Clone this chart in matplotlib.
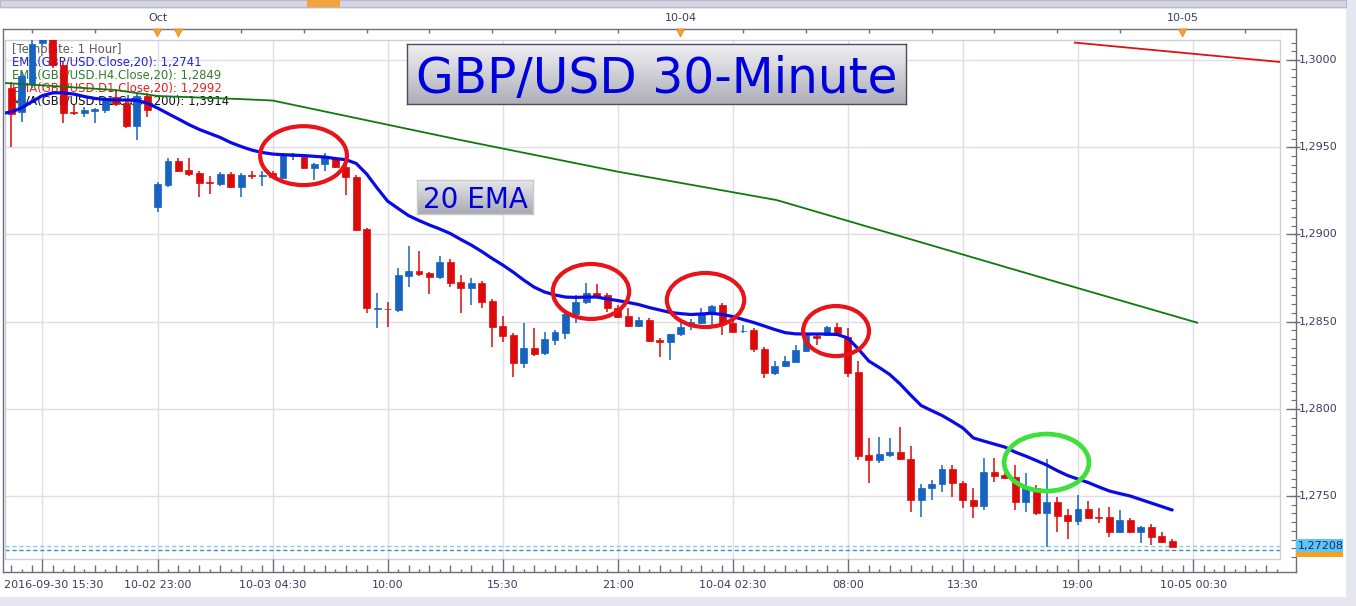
import numpy as np
import matplotlib
matplotlib.use("Agg")
import matplotlib.pyplot as plt
from matplotlib.patches import Ellipse, Rectangle, Polygon
from matplotlib.lines import Line2D
from matplotlib.collections import LineCollection
import matplotlib.transforms as mtransforms
from matplotlib.colors import to_rgb

plt.rcParams['font.family'] = ['DejaVu Sans']

# ---------------- data (GBP/USD, 30-minute bars) ----------------
opens = [
    1.29841, 1.29704, 1.29862, 1.30095, 1.30160, 1.29971, 1.29700, 1.29694, 1.29709, 1.29713,
    1.29790, 1.29752, 1.29622, 1.29794, 1.29159, 1.29283, 1.29421, 1.29369, 1.29350, 1.29300,
    1.29289, 1.29346, 1.29273, 1.29343, 1.29338, 1.29352, 1.29325, 1.29452, 1.29446, 1.29379,
    1.29404, 1.29431, 1.29385, 1.29327, 1.29029, 1.28575, 1.28574, 1.28567, 1.28763, 1.28790,
    1.28777, 1.28754, 1.28843, 1.28727, 1.28694, 1.28720, 1.28618, 1.28475, 1.28423, 1.28264,
    1.28347, 1.28318, 1.28394, 1.28436, 1.28544, 1.28611, 1.28662, 1.28653, 1.28580, 1.28532,
    1.28476, 1.28509, 1.28394, 1.28381, 1.28427, 1.28475, 1.28494, 1.28544, 1.28594, 1.28492,
    1.28446, 1.28452, 1.28341, 1.28204, 1.28248, 1.28270, 1.28334, 1.28415, 1.28426, 1.28471,
    1.28413, 1.28211, 1.27735, 1.27704, 1.27735, 1.27751, 1.27710, 1.27477, 1.27544, 1.27569,
    1.27655, 1.27573, 1.27477, 1.27444, 1.27636, 1.27620, 1.27607, 1.27464, 1.27544, 1.27401,
    1.27464, 1.27391, 1.27358, 1.27424, 1.27381, 1.27378, 1.27295, 1.27362, 1.27295, 1.27324,
    1.27271, 1.27242]
highs = [
    1.29874, 1.29931, 1.30130, 1.30210, 1.30200, 1.29989, 1.29742, 1.29731, 1.29725, 1.29790,
    1.29828, 1.29765, 1.29811, 1.29811, 1.29302, 1.29436, 1.29436, 1.29436, 1.29364, 1.29335,
    1.29358, 1.29358, 1.29352, 1.29365, 1.29365, 1.29364, 1.29467, 1.29467, 1.29461, 1.29409,
    1.29465, 1.29444, 1.29398, 1.29341, 1.29037, 1.28662, 1.28614, 1.28806, 1.28933, 1.28905,
    1.28784, 1.28876, 1.28859, 1.28767, 1.28748, 1.28733, 1.28630, 1.28532, 1.28435, 1.28494,
    1.28462, 1.28442, 1.28452, 1.28555, 1.28653, 1.28721, 1.28716, 1.28664, 1.28595, 1.28576,
    1.28525, 1.28521, 1.28406, 1.28429, 1.28494, 1.28515, 1.28576, 1.28595, 1.28607, 1.28515,
    1.28480, 1.28463, 1.28354, 1.28272, 1.28303, 1.28366, 1.28429, 1.28423, 1.28475, 1.28494,
    1.28466, 1.28274, 1.27831, 1.27840, 1.27831, 1.27897, 1.27787, 1.27569, 1.27592, 1.27678,
    1.27678, 1.27586, 1.27544, 1.27716, 1.27716, 1.27720, 1.27678, 1.27630, 1.27563, 1.27710,
    1.27496, 1.27424, 1.27506, 1.27473, 1.27430, 1.27435, 1.27420, 1.27374, 1.27328, 1.27339,
    1.27295, 1.27253]
lows = [
    1.29501, 1.29646, 1.29839, 1.30080, 1.29954, 1.29639, 1.29685, 1.29675, 1.29640, 1.29698,
    1.29736, 1.29610, 1.29541, 1.29675, 1.29130, 1.29272, 1.29358, 1.29335, 1.29216, 1.29232,
    1.29278, 1.29264, 1.29216, 1.29318, 1.29278, 1.29318, 1.29323, 1.29427, 1.29375, 1.29312,
    1.29365, 1.29381, 1.29226, 1.29021, 1.28548, 1.28462, 1.28471, 1.28553, 1.28701, 1.28761,
    1.28658, 1.28744, 1.28701, 1.28548, 1.28595, 1.28576, 1.28353, 1.28385, 1.28184, 1.28232,
    1.28303, 1.28308, 1.28366, 1.28400, 1.28494, 1.28601, 1.28635, 1.28557, 1.28521, 1.28469,
    1.28469, 1.28385, 1.28299, 1.28280, 1.28417, 1.28452, 1.28486, 1.28473, 1.28423, 1.28440,
    1.28436, 1.28326, 1.28175, 1.28194, 1.28240, 1.28263, 1.28326, 1.28366, 1.28417, 1.28429,
    1.28181, 1.27704, 1.27573, 1.27691, 1.27722, 1.27707, 1.27410, 1.27381, 1.27477, 1.27525,
    1.27496, 1.27430, 1.27372, 1.27420, 1.27582, 1.27597, 1.27420, 1.27410, 1.27391, 1.27209,
    1.27292, 1.27252, 1.27334, 1.27368, 1.27343, 1.27267, 1.27286, 1.27288, 1.27229, 1.27219,
    1.27231, 1.27209]
closes = [
    1.29690, 1.29908, 1.30092, 1.30180, 1.29971, 1.29696, 1.29694, 1.29713, 1.29717, 1.29771,
    1.29746, 1.29622, 1.29794, 1.29713, 1.29289, 1.29421, 1.29365, 1.29346, 1.29296, 1.29296,
    1.29346, 1.29273, 1.29341, 1.29338, 1.29343, 1.29329, 1.29455, 1.29458, 1.29379, 1.29404,
    1.29446, 1.29385, 1.29327, 1.29025, 1.28576, 1.28578, 1.28571, 1.28767, 1.28790, 1.28773,
    1.28754, 1.28843, 1.28723, 1.28693, 1.28720, 1.28614, 1.28471, 1.28419, 1.28264, 1.28347,
    1.28314, 1.28398, 1.28442, 1.28544, 1.28614, 1.28662, 1.28643, 1.28580, 1.28528, 1.28476,
    1.28509, 1.28389, 1.28381, 1.28427, 1.28472, 1.28499, 1.28548, 1.28591, 1.28490, 1.28442,
    1.28449, 1.28341, 1.28204, 1.28248, 1.28276, 1.28335, 1.28423, 1.28409, 1.28471, 1.28433,
    1.28207, 1.27731, 1.27704, 1.27741, 1.27754, 1.27710, 1.27477, 1.27544, 1.27569, 1.27655,
    1.27573, 1.27477, 1.27444, 1.27636, 1.27616, 1.27605, 1.27464, 1.27544, 1.27401, 1.27464,
    1.27387, 1.27358, 1.27424, 1.27376, 1.27376, 1.27295, 1.27362, 1.27295, 1.27324, 1.27267,
    1.27238, 1.27210]

# 20-period EMA of the 30-minute closes, read per bar (first value is bar -1)
ema20_start = -1
ema20 = [
    1.29692, 1.29702, 1.29725, 1.29762, 1.29796, 1.29812, 1.29812, 1.29805, 1.29791, 1.29780,
    1.29774, 1.29771, 1.29771, 1.29769, 1.29753, 1.29725, 1.29693, 1.29662, 1.29630, 1.29602,
    1.29579, 1.29556, 1.29527, 1.29504, 1.29484, 1.29470, 1.29461, 1.29457, 1.29455, 1.29452,
    1.29448, 1.29444, 1.29435, 1.29429, 1.29407, 1.29346, 1.29266, 1.29191, 1.29149, 1.29108,
    1.29080, 1.29054, 1.29031, 1.29005, 1.28971, 1.28939, 1.28902, 1.28862, 1.28825, 1.28784,
    1.28739, 1.28698, 1.28670, 1.28653, 1.28641, 1.28639, 1.28641, 1.28641, 1.28630, 1.28621,
    1.28610, 1.28598, 1.28581, 1.28567, 1.28553, 1.28546, 1.28541, 1.28544, 1.28548, 1.28541,
    1.28529, 1.28512, 1.28495, 1.28475, 1.28455, 1.28437, 1.28430, 1.28429, 1.28429, 1.28429,
    1.28426, 1.28406, 1.28343, 1.28274, 1.28237, 1.28197, 1.28142, 1.28079, 1.28019, 1.27990,
    1.27962, 1.27927, 1.27890, 1.27833, 1.27815, 1.27798, 1.27781, 1.27752, 1.27729, 1.27704,
    1.27678, 1.27646, 1.27618, 1.27597, 1.27577, 1.27552, 1.27529, 1.27514, 1.27500, 1.27480,
    1.27460, 1.27440, 1.27420]

# H4 EMA(20) (green) and D1 EMA(20) (red), vertices at bar positions
h4_idx = [-1, 10, 14, 22, 25, 43, 58, 73.2, 99.3, 113.4]
h4_ema = [1.29870, 1.29828, 1.29794, 1.29776, 1.29768, 1.29541, 1.29360, 1.29197, 1.28739, 1.28494]
d1_idx = [101.7, 121.3]
d1_ema = [1.30100, 1.29989]

bottom_label_idx = [3, 14, 25, 36, 47, 58, 69, 80, 91, 102, 113]
bottom_labels = ["2016-09-30 15:30", "10-02 23:00", "10-03 04:30", "10:00", "15:30", "21:00",
                 "10-04 02:30", "08:00", "13:30", "19:00", "10-05 00:30"]
top_tick_idx = [2, 8] + list(range(16, 122, 6))
top_label_idx = [14, 64, 112]
top_labels = ["Oct", "10-04", "10-05"]
day_marker_idx = [14, 16, 64, 112]
price_ticks = [1.2750, 1.2800, 1.2850, 1.2900, 1.2950, 1.3000]
price_tick_labels = ["1,2750", "1,2800", "1,2850", "1,2900", "1,2950", "1,3000"]
last_price_label = "1,27208"
bid_line = 1.27214
ask_line = 1.27188

legend_lines = [
    ("[Template: 1 Hour]", "#5a5a5a"),
    ("EMA(GBP/USD.Close,20): 1,2741", "#2323d2"),
    ("EMA(GBP/USD.H4.Close,20): 1,2849", "#2e7d2e"),
    ("EMA(GBP/USD.D1.Close,20): 1,2992", "#e02020"),
    ("MVA(GBP/USD.D1.Close,200): 1,3914", "#111111"),
]

# ---------------- figure ----------------
W, H = 1356, 606
fig = plt.figure(figsize=(W / 100, H / 100), dpi=100)
fig.patch.set_facecolor('#e6e6f0')


def fx(p):
    return p / W


def fy(p):
    return 1 - p / H


def frect(x0, y0, x1, y1, **kw):
    r = Rectangle((fx(x0), fy(y1)), fx(x1) - fx(x0), fy(y0) - fy(y1),
                  transform=fig.transFigure, **kw)
    fig.add_artist(r)
    return r


def fline(xs, ys, **kw):
    fig.add_artist(Line2D([fx(v) for v in xs], [fy(v) for v in ys],
                          transform=fig.transFigure, **kw))


frect(0, 9, 1346, 597, facecolor='white', edgecolor='none', zorder=-2)
frect(0, 0, 1346, 7, facecolor='#d5d5e3', edgecolor='#b9b9c9', lw=0.8, zorder=-1)
frect(307, 0, 340, 7, facecolor='#f2a33a', edgecolor='none', zorder=-1)

L, R, T, B = 5, 1280, 40, 559
ax = fig.add_axes([fx(L), fy(B), fx(R) - fx(L), fy(T) - fy(B)])
ax.set_xlim(-0.58, 121.31)
ax.set_ylim(1.27139, 1.30115)
ax.set_facecolor('white')
for s in ax.spines.values():
    s.set_color('#cfcfdb')
    s.set_linewidth(1)
ax.set_xticks(bottom_label_idx)
ax.set_yticks(price_ticks)
ax.tick_params(length=0, labelbottom=False, labelleft=False)
ax.grid(True, color='#dedee8', lw=1)
ax.set_axisbelow(True)

# legend texts (behind candles)
leg_y = [49.3, 62.0, 75.0, 88.3, 100.7]
for (txt, c), yy in zip(legend_lines, leg_y):
    ax.text(fx(12), fy(yy), txt, transform=fig.transFigure, color=c, fontsize=8.4,
            ha='left', va='center', zorder=1)

# price lines
ax.axhline(bid_line, color='#7fd0e4', lw=1, ls=(0, (3, 2)), zorder=2)
ax.axhline(ask_line, color='#3a8ccc', lw=1, ls=(0, (3, 2)), zorder=2)

# candles
o = np.array(opens); h = np.array(highs); l = np.array(lows); c = np.array(closes)
xb = np.arange(len(o))
cols = ['#1664bf' if cc >= oo else '#dc0a0a' for oo, cc in zip(o, c)]
ax.vlines(xb, l, h, colors=cols, lw=1.1, zorder=3)
body_bottom = np.minimum(o, c)
body_height = np.maximum(np.abs(c - o), 0.00003)
ax.bar(xb, body_height, bottom=body_bottom, width=0.66, color=cols, edgecolor=cols,
       linewidth=0.5, zorder=3.5)

# moving averages
ax.plot(np.arange(len(ema20)) + ema20_start, ema20, color='#0a0ae6', lw=2.3, zorder=4,
        solid_capstyle='round', solid_joinstyle='round')
ax.plot(h4_idx, h4_ema, color='#0e7a0e', lw=1.3, zorder=3.8)
ax.plot(d1_idx, d1_ema, color='#dd1212', lw=1.3, zorder=3.8)

# ellipse annotations
for cx, cy, ew, eh in [(27.96, 1.29452, 8.3, 0.00338),
                       (55.44, 1.28673, 7.3, 0.00315),
                       (66.39, 1.28624, 7.4, 0.00310),
                       (78.87, 1.28446, 6.3, 0.00287)]:
    ax.add_patch(Ellipse((cx, cy), ew, eh, fill=False, edgecolor='#e8141a', lw=3.0, zorder=5))
ax.add_patch(Ellipse((98.99, 1.27692), 8.1, 0.00327, fill=False, edgecolor='#3ee03a',
                     lw=3.4, zorder=5))

# ---------------- axes frame / scales ----------------
frame_c = '#6d6d7d'
fline([3, 3], [29, 572], color=frame_c, lw=1)
fline([1296, 1296], [29, 572], color=frame_c, lw=1)
fline([3, 1296], [29, 29], color=frame_c, lw=1)
fline([3, 1296], [572, 572], color=frame_c, lw=1)

tx = mtransforms.blended_transform_factory(ax.transData, fig.transFigure)
ty = mtransforms.blended_transform_factory(fig.transFigure, ax.transData)
label_c = '#3c3c5e'

# top scale
segs = [[(i, fy(29)), (i, fy(33))] for i in top_tick_idx]
fig.add_artist(LineCollection(segs, transform=tx, colors=frame_c, lw=1))
for i, s in zip(top_label_idx, top_labels):
    fig.text(i, fy(18), s, transform=tx, ha='center', va='center', fontsize=8, color=label_c)
for i in day_marker_idx:
    fig.add_artist(Polygon([(i - 0.4, fy(29)), (i + 0.4, fy(29)), (i, fy(37))], closed=True,
                           transform=tx, facecolor='#f2a22e', edgecolor='#d88a18', lw=0.5,
                           zorder=6))

# bottom scale
segs = []
for i in range(0, 122):
    if i in bottom_label_idx:
        segs.append([(i, fy(572)), (i, fy(559))])
    elif (i - 3) % 2 == 1:
        segs.append([(i, fy(572)), (i, fy(565))])
    else:
        segs.append([(i, fy(572)), (i, fy(569))])
fig.add_artist(LineCollection(segs, transform=tx, colors=frame_c, lw=1))
for k, (i, s) in enumerate(zip(bottom_label_idx, bottom_labels)):
    if k == 0:
        fig.text(fx(4), fy(585), s, ha='left', va='center', fontsize=8, color=label_c)
    else:
        fig.text(i, fy(585), s, transform=tx, ha='center', va='center', fontsize=8,
                 color=label_c)

# right price scale
segs = [[(fx(1286), p), (fx(1300), p)] for p in price_ticks]
fig.add_artist(LineCollection(segs, transform=ty, colors=frame_c, lw=1))
minor = np.arange(1.2715, 1.3011, 0.0005)
segs = [[(fx(1291), p), (fx(1296), p)] for p in minor]
fig.add_artist(LineCollection(segs, transform=ty, colors=frame_c, lw=0.8))
for p, s in zip(price_ticks, price_tick_labels):
    fig.text(fx(1299), p, s, transform=ty, ha='left', va='center', fontsize=8, color=label_c)

ppx = (ax.get_ylim()[1] - ax.get_ylim()[0]) / (B - T)
fig.add_artist(Rectangle((fx(1296), bid_line - 6.5 * ppx), fx(1343) - fx(1296), 13 * ppx,
                         transform=ty, facecolor='#5cc6f4', edgecolor='none', zorder=6))
fig.add_artist(Rectangle((fx(1296), bid_line - 11.5 * ppx), fx(1343) - fx(1296), 5 * ppx,
                         transform=ty, facecolor='#f4a020', edgecolor='none', zorder=6))
fig.text(fx(1298), bid_line, last_price_label, transform=ty, ha='left', va='center',
         fontsize=8, color='#1a2a66', zorder=7)


# ---------------- caption boxes ----------------
def grad_box(x0, y0, x1, y1, ctop, cbot, edge, text, size):
    bax = fig.add_axes([fx(x0), fy(y1), fx(x1) - fx(x0), fy(y0) - fy(y1)])
    bax.set_zorder(6)
    t = np.linspace(0, 1, 64)[:, None, None]
    img = (1 - t) * np.array(to_rgb(ctop)) + t * np.array(to_rgb(cbot))
    bax.imshow(img, aspect='auto', extent=[0, 1, 0, 1], origin='upper')
    bax.set_xlim(0, 1)
    bax.set_ylim(0, 1)
    bax.set_xticks([])
    bax.set_yticks([])
    for s in bax.spines.values():
        s.set_color(edge)
        s.set_linewidth(1)
    bax.text(0.5, 0.5, text, ha='center', va='center_baseline', fontsize=size,
             color='#0000dc', transform=bax.transAxes)


grad_box(407, 44, 906, 104, '#f0f0f3', '#aeaeb8', '#4c4c5c', "GBP/USD 30-Minute", 35)
grad_box(417, 180, 533, 214, '#e6e6ea', '#a9a9b2', '#c8c8d0', "20 EMA", 20)

fig.savefig("out.png", dpi=100, facecolor=fig.get_facecolor())
